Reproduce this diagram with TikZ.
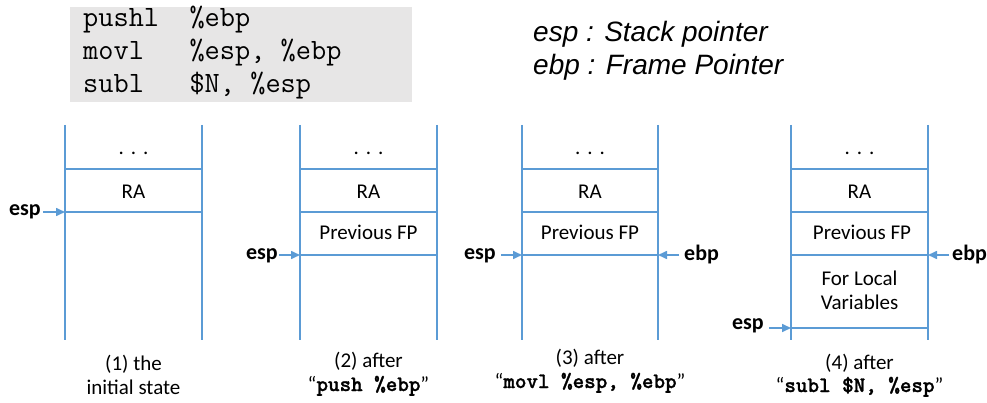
\documentclass[tikz,border=0pt]{standalone}
\usepackage{fontspec}
\setmainfont{Carlito}
\newfontfamily\boxcode{Latin Modern Mono}
\newfontfamily\capcodefont{lmmonolt10-bold.otf}[FakeBold=1.2]
\newfontfamily\legendfont{Liberation Sans}
\usetikzlibrary{arrows.meta}
\definecolor{stackblue}{HTML}{5B9BD5}
\definecolor{codegray}{HTML}{E7E6E6}
\tikzset{
  wall/.style={draw=stackblue, line width=1.8pt},
  cell/.style={font=\fontsize{21}{25}\selectfont, inner sep=0pt, anchor=base},
  caption/.style={font=\fontsize{21}{25}\selectfont, inner sep=0pt, anchor=base},
  ptr/.style={font=\bfseries\fontsize{22}{26}\selectfont, inner sep=0pt},
  ptrarrow/.style={draw=stackblue, line width=1.6pt, -{Triangle[length=9pt,width=8pt]}},
  codeline/.style={font=\boxcode\fontsize{29.5}{33}\selectfont, inner sep=0pt, anchor=base west},
  legend/.style={font=\legendfont\itshape\fontsize{28}{32}\selectfont, inner sep=0pt, anchor=base west},
}
\newcommand{\cc}[1]{{\capcodefont\fontsize{22}{24}\selectfont #1}}
\begin{document}
\begin{tikzpicture}[x=1pt,y=-1pt]
\useasboundingbox (0,0) rectangle (987,403);
% code box
\fill[codegray] (70,7) rectangle (412,102);
\node[codeline] (c1) at (83,27) {pushl\ \ \%ebp};
\node[codeline] (c2) at (83,60) {movl\ \ \ \%esp, \%ebp};
\node[codeline] (c3) at (83,93) {subl\ \ \ \$N, \%esp};
% legend
\node[legend] (l1) at (533,42) {esp : Stack pointer};
\node[legend] (l2) at (533,75) {ebp : Frame Pointer};

% ---------- Stack 1 ----------
\draw[wall] (65,125) -- (65,340);
\draw[wall] (202,125) -- (202,340);
\draw[wall] (65,169) -- (202,169);
\draw[wall] (65,212) -- (202,212);
\node[cell] (d1) at (133.5,155) {.\,\,.\,\,.};
\node[cell] (r1) at (133.5,199) {RA};
\coordinate (s1esp) at (65,212);
\node[ptr, anchor=base east] (e1) at (41,216) {esp};
\draw[ptrarrow] ([xshift=2pt]e1.east |- s1esp) -- (s1esp);
\node[caption] (k1a) at (133.5,370) {(1) the};
\node[caption] (k1b) at (133.5,394) {initial state};

% ---------- Stack 2 ----------
\draw[wall] (300,125) -- (300,340);
\draw[wall] (437,125) -- (437,340);
\draw[wall] (300,169) -- (437,169);
\draw[wall] (300,212) -- (437,212);
\draw[wall] (300,255) -- (437,255);
\node[cell] (d2) at (368.5,155) {.\,\,.\,\,.};
\node[cell] (r2) at (368.5,199) {RA};
\node[cell] (p2) at (368.5,240) {Previous FP};
\coordinate (s2esp) at (300,255);
\node[ptr, anchor=base east] (e2) at (278,259) {esp};
\draw[ptrarrow] ([xshift=1pt]e2.east |- s2esp) -- (s2esp);
\node[caption] (k2a) at (368.5,367) {(2) after};
\node[caption] (k2b) at (368.5,391) {“\cc{push \%ebp}”};

% ---------- Stack 3 ----------
\draw[wall] (522,125) -- (522,340);
\draw[wall] (658,125) -- (658,340);
\draw[wall] (522,169) -- (658,169);
\draw[wall] (522,212) -- (658,212);
\draw[wall] (522,255) -- (658,255);
\node[cell] (d3) at (590,155) {.\,\,.\,\,.};
\node[cell] (r3) at (590,199) {RA};
\node[cell] (p3) at (590,240) {Previous FP};
\coordinate (s3esp) at (522,255);
\coordinate (s3ebp) at (658,255);
\node[ptr, anchor=base east] (e3) at (496,259) {esp};
\node[ptr, anchor=base west] (b3) at (684,261) {ebp};
\draw[ptrarrow] ([xshift=5pt]e3.east |- s3esp) -- (s3esp);
\draw[ptrarrow] ([xshift=-5pt]b3.west |- s3ebp) -- (s3ebp);
\node[caption] (k3a) at (590,364) {(3) after};
\node[caption] (k3b) at (590,388) {“\cc{movl \%esp, \%ebp}”};

% ---------- Stack 4 ----------
\draw[wall] (791,125) -- (791,340);
\draw[wall] (928,125) -- (928,340);
\draw[wall] (791,169) -- (928,169);
\draw[wall] (791,212) -- (928,212);
\draw[wall] (791,255) -- (928,255);
\draw[wall] (791,328) -- (928,328);
\node[cell] (d4) at (859.5,155) {.\,\,.\,\,.};
\node[cell] (r4) at (859.5,199) {RA};
\node[cell] (p4) at (862,240) {Previous FP};
\node[cell] (v4a) at (859.5,285) {For Local};
\node[cell] (v4b) at (859.5,309) {Variables};
\coordinate (s4ebp) at (928,255);
\coordinate (s4esp) at (791,328);
\node[ptr, anchor=base west] (b4) at (952,261) {ebp};
\node[ptr, anchor=base east] (e4) at (764,329) {esp};
\draw[ptrarrow] ([xshift=-3pt]b4.west |- s4ebp) -- (s4ebp);
\draw[ptrarrow] ([xshift=5pt]e4.east |- s4esp) -- (s4esp);
\node[caption] (k4a) at (859.5,369) {(4) after};
\node[caption] (k4b) at (859.5,392) {“\cc{subl \$N, \%esp}”};
\end{tikzpicture}
\end{document}
